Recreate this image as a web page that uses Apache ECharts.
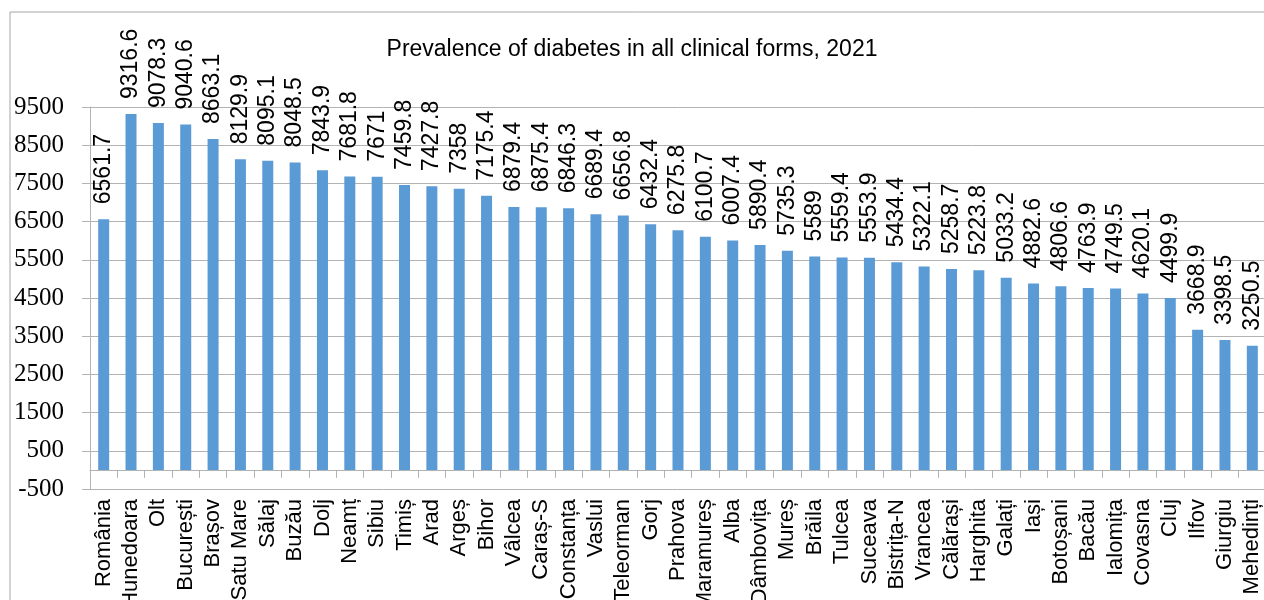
<!DOCTYPE html>
<html>
<head>
<meta charset="utf-8">
<script src="https://cdn.jsdelivr.net/npm/echarts@6/dist/echarts.min.js"></script>
<style>
  html, body { margin: 0; padding: 0; background: #fff; }
  #chart { width: 1264px; height: 600px; }
</style>
</head>
<body>
<div id="chart"></div>
<script>
// Counties (and the national figure) ordered by prevalence
const counties = [
  'România', 'Hunedoara', 'Olt', 'București', 'Brașov', 'Satu Mare', 'Sălaj', 'Buzău',
  'Dolj', 'Neamț', 'Sibiu', 'Timiș', 'Arad', 'Argeș', 'Bihor', 'Vâlcea', 'Caraș-S',
  'Constanța', 'Vaslui', 'Teleorman', 'Gorj', 'Prahova', 'Maramureș', 'Alba', 'Dâmbovița',
  'Mureș', 'Brăila', 'Tulcea', 'Suceava', 'Bistrița-N', 'Vrancea', 'Călărași', 'Harghita',
  'Galați', 'Iași', 'Botoșani', 'Bacău', 'Ialomița', 'Covasna', 'Cluj', 'Ilfov',
  'Giurgiu', 'Mehedinți'
];

// Prevalence of diabetes, all clinical forms, 2021
const prevalence = [
  6561.7, 9316.6, 9078.3, 9040.6, 8663.1, 8129.9, 8095.1, 8048.5,
  7843.9, 7681.8, 7671, 7459.8, 7427.8, 7358, 7175.4, 6879.4, 6875.4,
  6846.3, 6689.4, 6656.8, 6432.4, 6275.8, 6100.7, 6007.4, 5890.4,
  5735.3, 5589, 5559.4, 5553.9, 5434.4, 5322.1, 5258.7, 5223.8,
  5033.2, 4882.6, 4806.6, 4763.9, 4749.5, 4620.1, 4499.9, 3668.9,
  3398.5, 3250.5
];

// Value axis range and step
const yMin = -500;
const yMax = 9500;
const yStep = 1000;

const chart = echarts.init(document.getElementById('chart'), null, { renderer: 'canvas' });

const gridColor = '#b3b3b3';
const sans = 'Liberation Sans';
const serif = 'Liberation Serif';

chart.setOption({
  animation: false,
  backgroundColor: '#ffffff',
  graphic: [{
    type: 'rect',
    shape: { x: 10, y: 12, width: 1400, height: 700 },
    style: { fill: 'none', stroke: '#a6a6a6', lineWidth: 1 },
    silent: true,
    z: -10
  }],
  title: {
    text: 'Prevalence of diabetes in all clinical forms, 2021',
    left: 'center',
    top: 33,
    textStyle: { fontFamily: sans, fontSize: 23, fontWeight: 'normal', color: '#000' }
  },
  grid: {
    left: 90, top: 107, width: 1176, height: 382,
    containLabel: false,
    outerBoundsMode: 'none'
  },
  xAxis: {
    type: 'category',
    data: counties,
    boundaryGap: true,
    axisLine: { show: true, onZero: true, lineStyle: { color: gridColor, width: 1 } },
    axisTick: { show: true, length: 8, lineStyle: { color: gridColor } },
    axisLabel: {
      interval: 0,
      rotate: 90,
      margin: 10,
      fontFamily: sans,
      fontSize: 22,
      color: '#000'
    },
    splitLine: { show: false }
  },
  yAxis: {
    type: 'value',
    min: yMin,
    max: yMax,
    interval: yStep,
    axisLine: { show: true, lineStyle: { color: gridColor } },
    axisTick: { show: true, length: 8, lineStyle: { color: gridColor } },
    axisLabel: {
      margin: 26,
      color: '#000',
      fontFamily: serif,
      fontSize: 25,
      formatter: v => '{t|' + v + '}',
      rich: {
        t: { fontFamily: serif, fontSize: 25, color: '#000' }
      }
    },
    splitLine: { show: true, lineStyle: { color: gridColor, width: 1 } }
  },
  series: [{
    type: 'bar',
    data: prevalence,
    barWidth: 11,
    itemStyle: { color: '#5b9bd5' },
    label: {
      show: true,
      position: 'top',
      rotate: 90,
      align: 'left',
      verticalAlign: 'middle',
      distance: 15,
      fontFamily: sans,
      fontSize: 23,
      color: '#000',
      formatter: p => String(p.value)
    }
  }]
});
</script>
</body>
</html>
